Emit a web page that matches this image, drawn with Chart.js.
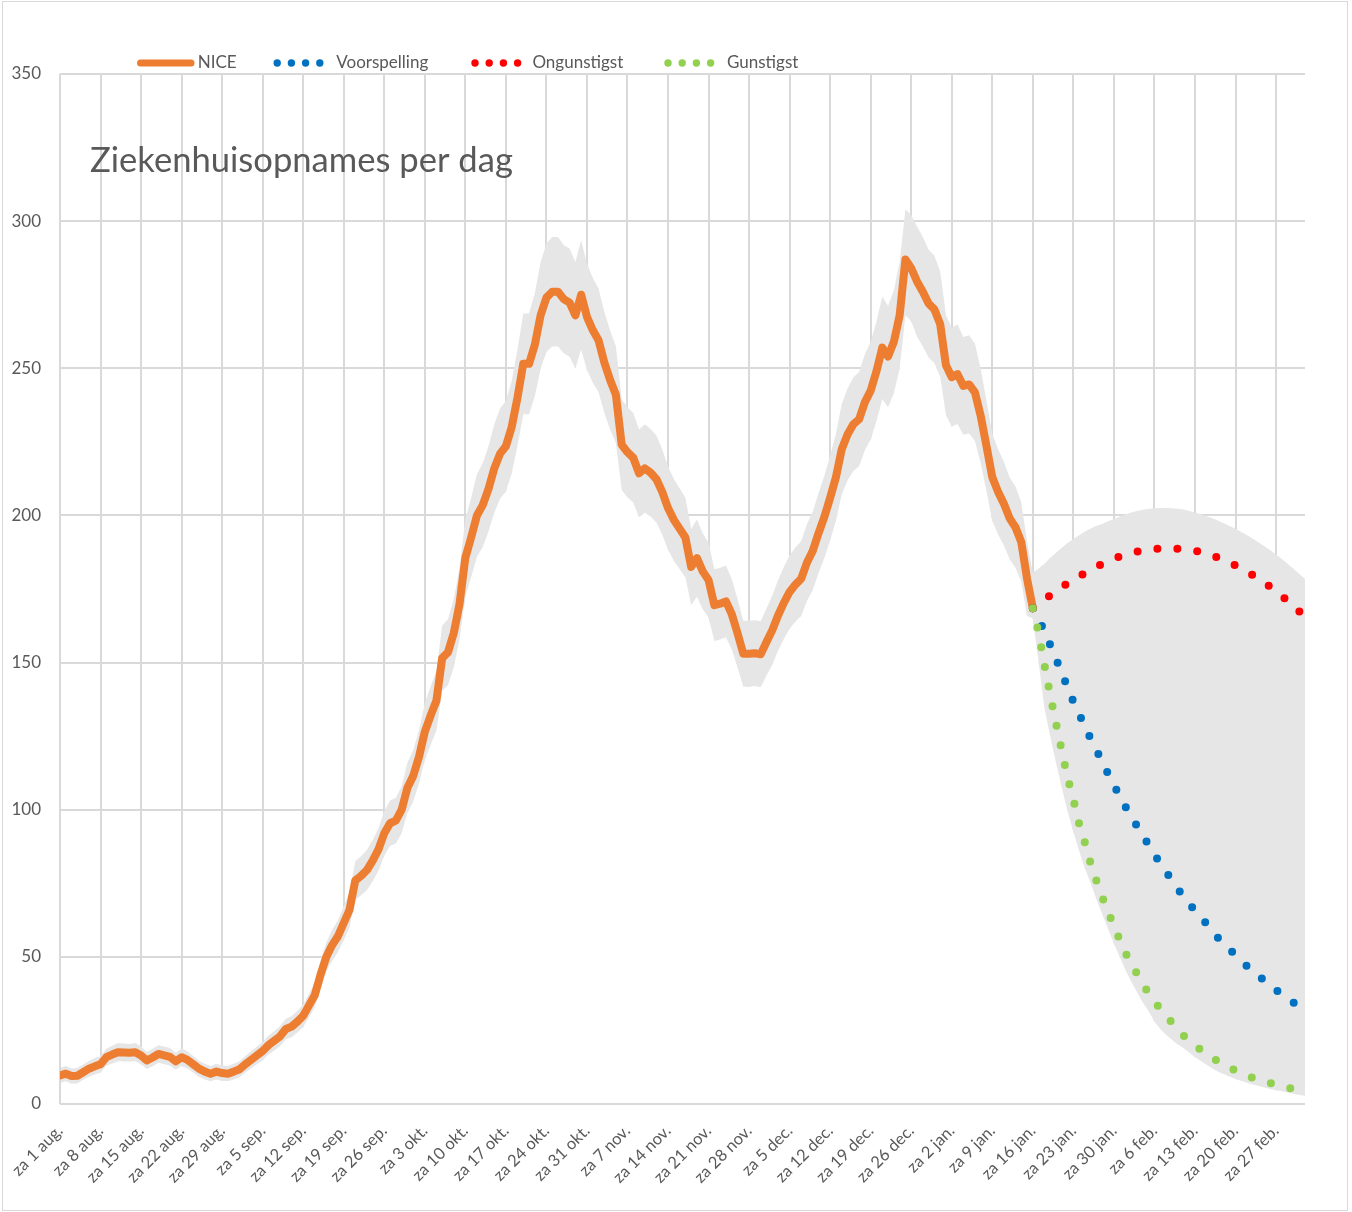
<!DOCTYPE html>
<html>
<head>
<meta charset="utf-8">
<script src="https://cdn.jsdelivr.net/npm/chart.js@4.4.1/dist/chart.umd.min.js"></script>
<style>
html, body { margin: 0; padding: 0; background: #ffffff; }
#wrap { position: relative; width: 1352px; height: 1212px; }
canvas { display: block; }
</style>
</head>
<body>
<div id="wrap"><canvas id="chart" width="1352" height="1212"></canvas></div>
<script>
// ---------- DATA ----------
const tickLabels = [
  "za 1 aug.", "za 8 aug.", "za 15 aug.", "za 22 aug.", "za 29 aug.",
  "za 5 sep.", "za 12 sep.", "za 19 sep.", "za 26 sep.",
  "za 3 okt.", "za 10 okt.", "za 17 okt.", "za 24 okt.", "za 31 okt.",
  "za 7 nov.", "za 14 nov.", "za 21 nov.", "za 28 nov.",
  "za 5 dec.", "za 12 dec.", "za 19 dec.", "za 26 dec.",
  "za 2 jan.", "za 9 jan.", "za 16 jan.", "za 23 jan.", "za 30 jan.",
  "za 6 feb.", "za 13 feb.", "za 20 feb.", "za 27 feb."
];

const seriesNames = ["NICE", "Voorspelling", "Ongunstigst", "Gunstigst"];

// NICE, one value per day from za 1 aug. (day 0) to za 16 jan. (day 168)
const niceValues = [
  9.7, 10.3, 9.5, 9.6, 10.8, 12, 12.8, 13.5, 15.9, 16.8,
  17.6, 17.5, 17.4, 17.6, 16.5, 14.8, 15.8, 17, 16.5, 16,
  14.5, 15.9, 15, 13.5, 12, 11, 10.3, 11, 10.5, 10.3,
  11, 11.8, 13.5, 15, 16.5, 18, 20, 21.5, 23, 25.5,
  26.3, 28, 30, 33.5, 37, 44, 50, 54, 57, 61.5,
  66, 76, 77.5, 79.5, 82.7, 86.5, 92, 95.4, 96.3, 100,
  107.5, 111.5, 118, 126.5, 132, 137, 151.5, 153.5, 160, 170,
  185.6, 192.5, 200, 203.5, 209, 216, 221, 223.5, 230, 240,
  251.5, 251.5, 258, 268, 274, 276, 276, 273.5, 272.3, 268,
  275, 267.5, 263, 259.5, 252, 246, 241, 224, 221.5, 219.6,
  214.3, 216, 214.5, 212.3, 208, 202.5, 198.5, 195.5, 192.5, 182.5,
  185.5, 181, 178, 169.5, 170, 170.8, 166.5, 160, 153, 153,
  153.2, 152.8, 157, 161, 166, 170.3, 174, 176.5, 178.5, 184,
  188, 194, 199.5, 206, 213, 222.5, 227.5, 231, 232.7, 238.5,
  242.4, 249, 257, 254, 259, 268, 287, 284, 279.5, 276,
  272, 270, 265, 251, 247, 248, 244, 244.5, 241.8, 233.8,
  223.5, 213, 208, 204, 199, 196, 191, 178.5, 168.5
];

// grey band around NICE, days 0..167
const niceLower = [
  7.1, 7.7, 6.9, 7, 8.2, 9.3, 10, 10.7, 13, 13.8,
  14.5, 14.4, 14.4, 14.5, 13.5, 11.9, 12.8, 14, 13.5, 13,
  11.6, 12.9, 12.1, 10.7, 9.3, 8.3, 7.7, 8.3, 7.9, 7.7,
  8.3, 9.1, 10.7, 12.1, 13.5, 14.9, 16.8, 18.2, 19.6, 22,
  22.7, 24.3, 26.2, 29.5, 32.8, 39.4, 45, 48.8, 51.6, 55.8,
  60, 69.4, 70.9, 72.7, 75.7, 79.3, 84.5, 87.7, 88.5, 92,
  99, 102.8, 108.9, 116.9, 122.1, 126.8, 140.4, 142.3, 148.4, 157.8,
  172.5, 179, 186, 189.3, 194.5, 201, 205.7, 208.1, 214.2, 223.6,
  234.4, 234.4, 240.5, 249.9, 255.6, 257.4, 257.4, 255.1, 253.9, 249.9,
  256.5, 249.5, 245.2, 241.9, 234.9, 229.2, 224.5, 208.6, 206.2, 204.4,
  199.4, 201, 199.6, 197.5, 193.5, 188.4, 184.6, 181.8, 179, 169.6,
  172.4, 168.1, 165.3, 157.3, 157.8, 158.6, 154.5, 148.4, 141.8, 141.8,
  142, 141.6, 145.6, 149.3, 154, 158.1, 161.6, 163.9, 165.8, 171,
  174.7, 180.4, 185.5, 191.6, 198.2, 207.1, 211.9, 215.1, 216.7, 222.2,
  225.9, 232.1, 239.6, 236.8, 241.5, 249.9, 268, 266, 260.8, 257.4,
  253.7, 251.8, 247.1, 234, 230.2, 231.1, 227.4, 227.8, 225.3, 217.8,
  208.1, 198.2, 193.5, 189.8, 185.1, 182.2, 177.5, 165.8
];
const niceUpper = [
  12.3, 12.9, 12.1, 12.2, 13.4, 14.7, 15.6, 16.3, 18.8, 19.8,
  20.7, 20.6, 20.4, 20.7, 19.5, 17.7, 18.8, 20, 19.5, 19,
  17.4, 18.9, 17.9, 16.3, 14.7, 13.7, 12.9, 13.7, 13.1, 12.9,
  13.7, 14.5, 16.3, 17.9, 19.5, 21.1, 23.2, 24.8, 26.4, 29,
  29.9, 31.7, 33.8, 37.5, 41.2, 48.6, 55, 59.2, 62.4, 67.2,
  72, 82.6, 84.2, 86.3, 89.7, 93.7, 99.5, 103.1, 104.1, 108,
  116, 120.2, 127.1, 136.1, 141.9, 147.2, 162.6, 164.7, 171.6, 182.2,
  198.7, 206, 214, 217.7, 223.5, 231, 236.3, 238.9, 245.8, 256.4,
  268.6, 268.6, 275.5, 286.1, 292.4, 294.6, 294.6, 291.9, 290.7, 286.1,
  293.5, 285.5, 280.8, 277.1, 269.1, 262.8, 257.5, 239.4, 236.8, 234.8,
  229.2, 231, 229.4, 227.1, 222.5, 216.6, 212.4, 209.2, 206, 195.4,
  198.6, 193.9, 190.7, 181.7, 182.2, 183, 178.5, 171.6, 164.2, 164.2,
  164.4, 164, 168.4, 172.7, 178, 182.5, 186.4, 189.1, 191.2, 197,
  201.3, 207.6, 213.5, 220.4, 227.8, 237.9, 243.1, 246.9, 248.7, 254.8,
  258.9, 265.9, 274.4, 271.2, 276.5, 286.1, 304, 302, 298.2, 294.6,
  290.3, 288.2, 282.9, 268, 263.8, 264.9, 260.6, 261.2, 258.3, 249.8,
  238.9, 227.8, 222.5, 218.2, 212.9, 209.8, 204.5, 191.2
];

// forecasts, one value per day from za 16 jan. (day 168) to day 215
const forecastStartDay = 168;
const voorspelling = [
  168.5, 165, 160.5, 156, 151.3, 146.5, 141.5, 136.7, 132.5, 128.3,
  124, 120.2, 116.2, 112.2, 108.4, 104.6, 101, 97.6, 94.4, 91.2,
  88, 84.8, 81.7, 78.9, 76.1, 73.2, 70.5, 68.1, 65.7, 63.5,
  61.2, 58.8, 56.4, 54.4, 52.5, 50.6, 48.7, 46.8, 45.1, 43.5,
  41.9, 40.3, 38.7, 37.3, 35.9, 34.5, 33.2, 32
];
const ongunstigst = [
  168.5, 170, 171.5, 172.8, 174.2, 175.6, 176.9, 178.1, 179.3, 180.4,
  181.5, 182.6, 183.6, 184.5, 185.3, 186, 186.6, 187.2, 187.7, 188.1,
  188.4, 188.6, 188.7, 188.8, 188.8, 188.7, 188.5, 188.3, 188, 187.6,
  187.1, 186.4, 185.6, 184.8, 183.9, 183, 181.9, 180.8, 179.7, 178.4,
  177.1, 175.7, 174.2, 172.6, 171, 169.2, 167.4, 165.5
];
const gunstigst = [
  168.5, 160, 149.3, 139, 129.4, 120, 110.9, 103.5, 95.2, 88.7,
  81.6, 75.7, 70.3, 65.3, 60.5, 55.8, 51.4, 47.5, 44.3, 40.8,
  37.6, 34.9, 32.3, 30, 27.7, 25.5, 23.3, 21.5, 19.9, 18.4,
  17, 15.7, 14.5, 13.4, 12.4, 11.3, 10.4, 9.6, 8.9, 8.3,
  7.7, 7.1, 6.6, 6.1, 5.6, 5, 4.5, 4.1
];
const forecastLower = [
  165, 150, 134.5, 125, 116, 107.5, 99.5, 92.5, 86, 80,
  75, 69.5, 64.5, 59.5, 54.5, 50, 45.5, 41.5, 38, 34.5,
  31.5, 28, 25.5, 23.5, 21.8, 20.3, 19, 17.5, 16, 14.6,
  13.3, 12.1, 11, 10.1, 9.3, 8.5, 7.8, 7.2, 6.6, 6.1,
  5.6, 5.1, 4.7, 4.3, 3.9, 3.5, 3.1, 2.8
];
const forecastUpper = [
  180.5, 182, 183.6, 185.6, 187.3, 189, 190.6, 192, 193.3, 194.5,
  195.6, 196.5, 197.1, 198, 198.8, 199.6, 200.4, 201, 201.5, 201.9,
  202.2, 202.4, 202.5, 202.5, 202.4, 202.3, 202, 201.5, 201, 200.4,
  199.7, 199, 198.2, 197.3, 196.4, 195.5, 194.4, 193.3, 192.1, 190.8,
  189.5, 188.2, 186.7, 185.2, 183.6, 181.9, 180.2, 178.4
];

const yTickValues = [0, 50, 100, 150, 200, 250, 300, 350];
const titleText = "Ziekenhuisopnames per dag";

// ---------- STYLE ----------
const COL = {
  nice: "#ED7D31", base: "#0070C0", worst: "#FF0000", best: "#92D050",
  band: "#E6E6E6", grid: "#D9D9D9", text: "#595959"
};
const FONT = "Lato";

// ---------- BUILD ----------
const toPts = (arr, start) => arr.map((v, i) => ({ x: start + i, y: v }));
const tickDays = tickLabels.map((_, i) => i * 7);
const bandLowerPts = toPts(niceLower, 0).concat(toPts(forecastLower, forecastStartDay));
const bandUpperPts = toPts(niceUpper, 0).concat(toPts(forecastUpper, forecastStartDay));

const dotted = (label, data, color, order) => ({
  label, data: toPts(data, forecastStartDay), borderColor: color, backgroundColor: color,
  borderWidth: 8, borderDash: [0, 20], borderCapStyle: "round", borderJoinStyle: "round",
  pointRadius: 0, fill: false, tension: 0, order
});

const decor = {
  id: "decor",
  beforeDraw(chart) {
    const ctx = chart.ctx;
    ctx.save();
    ctx.fillStyle = "#ffffff";
    ctx.fillRect(0, 0, chart.width, chart.height);
    ctx.strokeStyle = COL.grid;
    ctx.lineWidth = 1;
    ctx.strokeRect(2.5, 1.5, 1345, 1209);
    ctx.restore();
  },
  afterDatasetDraw(chart, args) {
    if (args.index !== 1) return;
    const ctx = chart.ctx, a = chart.chartArea;
    ctx.save();
    ctx.strokeStyle = COL.grid;
    ctx.lineWidth = 2;
    ctx.beginPath();
    ctx.moveTo(a.left, a.bottom); ctx.lineTo(a.right, a.bottom);
    ctx.moveTo(a.left, a.top); ctx.lineTo(a.left, a.bottom);
    ctx.stroke();
    ctx.restore();
  },
  afterDraw(chart) {
    const ctx = chart.ctx, a = chart.chartArea;
    ctx.save();
    // title inside plot
    ctx.fillStyle = COL.text;
    ctx.textBaseline = "alphabetic";
    ctx.textAlign = "left";
    let fs = 34;
    ctx.font = fs + "px " + FONT;
    fs = fs * 423 / ctx.measureText(titleText).width;
    ctx.font = fs + "px " + FONT;
    ctx.fillText(titleText, a.left + 30, 172);
    // legend
    const ly = 63;
    ctx.font = "17px " + FONT;
    ctx.textBaseline = "middle";
    const symLeft = [137, 273.5, 471.3, 664.3];
    const textLeft = [197.7, 336.3, 532.4, 727];
    const colors = [COL.nice, COL.base, COL.worst, COL.best];
    seriesNames.forEach((name, i) => {
      if (i === 0) {
        ctx.strokeStyle = colors[i];
        ctx.lineWidth = 7;
        ctx.lineCap = "round";
        ctx.beginPath();
        ctx.moveTo(symLeft[i] + 3.5, ly); ctx.lineTo(symLeft[i] + 54, ly);
        ctx.stroke();
      } else {
        ctx.fillStyle = colors[i];
        for (let k = 0; k < 4; k++) {
          ctx.beginPath();
          ctx.arc(symLeft[i] + 3.7 + k * 14.2, ly, 3.7, 0, Math.PI * 2);
          ctx.fill();
        }
      }
      ctx.fillStyle = COL.text;
      ctx.fillText(name, textLeft[i], ly);
    });
    ctx.restore();
  }
};

new Chart(document.getElementById("chart"), {
  type: "line",
  data: {
    datasets: [
      { label: "ondergrens", data: bandLowerPts, fill: "origin", backgroundColor: "#ffffff",
        borderWidth: 0, pointRadius: 0, tension: 0, order: 6 },
      { label: "bandbreedte", data: bandUpperPts, fill: "-1", backgroundColor: COL.band,
        borderWidth: 0, pointRadius: 0, tension: 0, order: 5 },
      { label: seriesNames[0], data: toPts(niceValues, 0), borderColor: COL.nice, backgroundColor: COL.nice,
        borderWidth: 8, borderCapStyle: "round", borderJoinStyle: "round", pointRadius: 0, fill: false,
        tension: 0, order: 4 },
      dotted(seriesNames[1], voorspelling, COL.base, 3),
      dotted(seriesNames[2], ongunstigst, COL.worst, 2),
      dotted(seriesNames[3], gunstigst, COL.best, 1)
    ]
  },
  options: {
    responsive: false,
    animation: false,
    devicePixelRatio: 1,
    layout: { padding: { top: 74, right: 47, left: 0, bottom: 0 } },
    plugins: { legend: { display: false }, tooltip: { enabled: false }, title: { display: false } },
    scales: {
      x: {
        type: "linear", min: 0, max: 215,
        afterBuildTicks: (s) => { s.ticks = tickDays.map((v) => ({ value: v })); },
        afterFit: (s) => { s.height = 108; s.paddingLeft = 0; s.paddingRight = 0; },
        grid: { color: COL.grid, lineWidth: 2, drawTicks: false },
        border: { display: false },
        ticks: {
          autoSkip: false, maxRotation: 45, minRotation: 45, padding: 17,
          color: COL.text, font: { family: FONT, size: 16.5 },
          callback: (v, i) => tickLabels[i]
        }
      },
      y: {
        min: 0, max: 350,
        afterBuildTicks: (s) => { s.ticks = yTickValues.map((v) => ({ value: v })); },
        afterFit: (s) => { s.width = 60; },
        grid: { color: COL.grid, lineWidth: 2, drawTicks: false },
        border: { display: false },
        ticks: { padding: 19, color: COL.text, font: { family: FONT, size: 17 } }
      }
    }
  },
  plugins: [decor]
});
</script>
</body>
</html>
